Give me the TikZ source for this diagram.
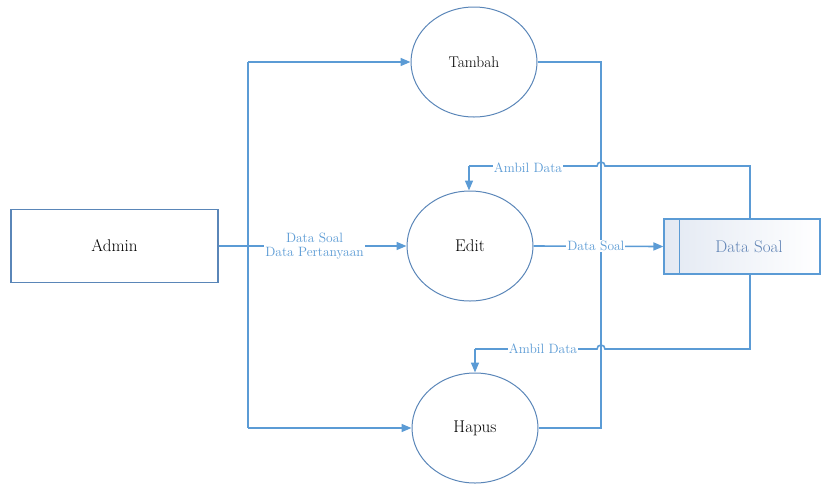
\documentclass[tikz,border=0pt]{standalone}
\usetikzlibrary{arrows.meta,shapes.geometric}
\definecolor{flow}{HTML}{5B9BD5}
\definecolor{rim}{HTML}{5A86B8}
\definecolor{storetxt}{HTML}{5E82B4}
\definecolor{storefill}{HTML}{E3E9F3}
\begin{document}
\begin{tikzpicture}[x=1pt,y=-1pt,
  proc/.style={ellipse,draw=rim,line width=1pt,minimum width=126pt,minimum height=110pt,inner sep=0pt,font=\fontsize{17}{19}\selectfont},
  entity/.style={rectangle,draw=rim,line width=1.1pt,minimum width=207pt,minimum height=73pt,font=\fontsize{17}{19}\selectfont},
  datastore/.style={rectangle,draw=flow,line width=1.2pt,left color=storefill,right color=white,minimum width=156pt,minimum height=55pt,inner sep=0pt},
  flowline/.style={draw=flow,line width=1.6pt},
  arr/.style={flowline,-{Triangle[length=10pt,width=8pt]}},
  lbl/.style={fill=white,text=flow,inner sep=1pt,font=\fontsize{13.5}{14}\selectfont,align=center}]
\useasboundingbox (0,0) rectangle (824,483);
% external entity and processes
\node[entity] (admin) at (114.5,246) {Admin};
\node[proc,font=\fontsize{15.5}{17}\selectfont] (tambah) at (474,62) {Tambah};
\node[proc] (edit) at (470,246) {Edit};
\node[proc] (hapus) at (475,428) {Hapus};
% data store with its left compartment
\node[datastore] (store) at (742,246.5) {};
\draw[flow,line width=1.2pt] ([xshift=16pt]store.north west) -- ([xshift=16pt]store.south west);
\node[text=storetxt,font=\fontsize{17}{19}\selectfont] (storelabel) at (749,246.5) {Data Soal};
% trunk from Admin
\coordinate (j) at (248,246);
\coordinate (jt) at (248,62);
\coordinate (jb) at (248,428);
\draw[flowline] (admin.east) -- (j);
\draw[flowline] (jt) -- (jb);
\draw[arr] (jt) -- (tambah.west);
\draw[arr] (jb) -- (hapus.west);
\draw[arr] (j) -- node[lbl,pos=0.42] (l1) {Data Soal\\Data Pertanyaan} (edit.west);
% line joining Tambah and Hapus
\coordinate (rt) at (601,62);
\coordinate (rb) at (601,428);
\draw[flowline] (tambah.east) -- (rt) -- (rb) -- (hapus.east);
% Edit to store
\draw[arr] (edit.east) -- node[lbl,pos=0.48] (l2) {Data Soal} (store.west);
% Ambil Data to Edit
\coordinate (s1) at (750,219);
\coordinate (c1) at (750,166);
\coordinate (e1) at (469,166);
\draw[flowline] (s1) -- (c1) -- (605,166) arc[start angle=0,end angle=180,radius=4pt] -- (e1);
\draw[arr] (e1) -- (edit.north -| e1);
\node[lbl] (l3) at (528,168) {Ambil Data};
% Ambil Data to Hapus
\coordinate (s2) at (750,274);
\coordinate (c2) at (750,349);
\coordinate (e2) at (475,349);
\draw[flowline] (s2) -- (c2) -- (605,349) arc[start angle=0,end angle=180,radius=4pt] -- (e2);
\draw[arr] (e2) -- (hapus.north -| e2);
\node[lbl] (l4) at (543,349) {Ambil Data};
\end{tikzpicture}
\end{document}
